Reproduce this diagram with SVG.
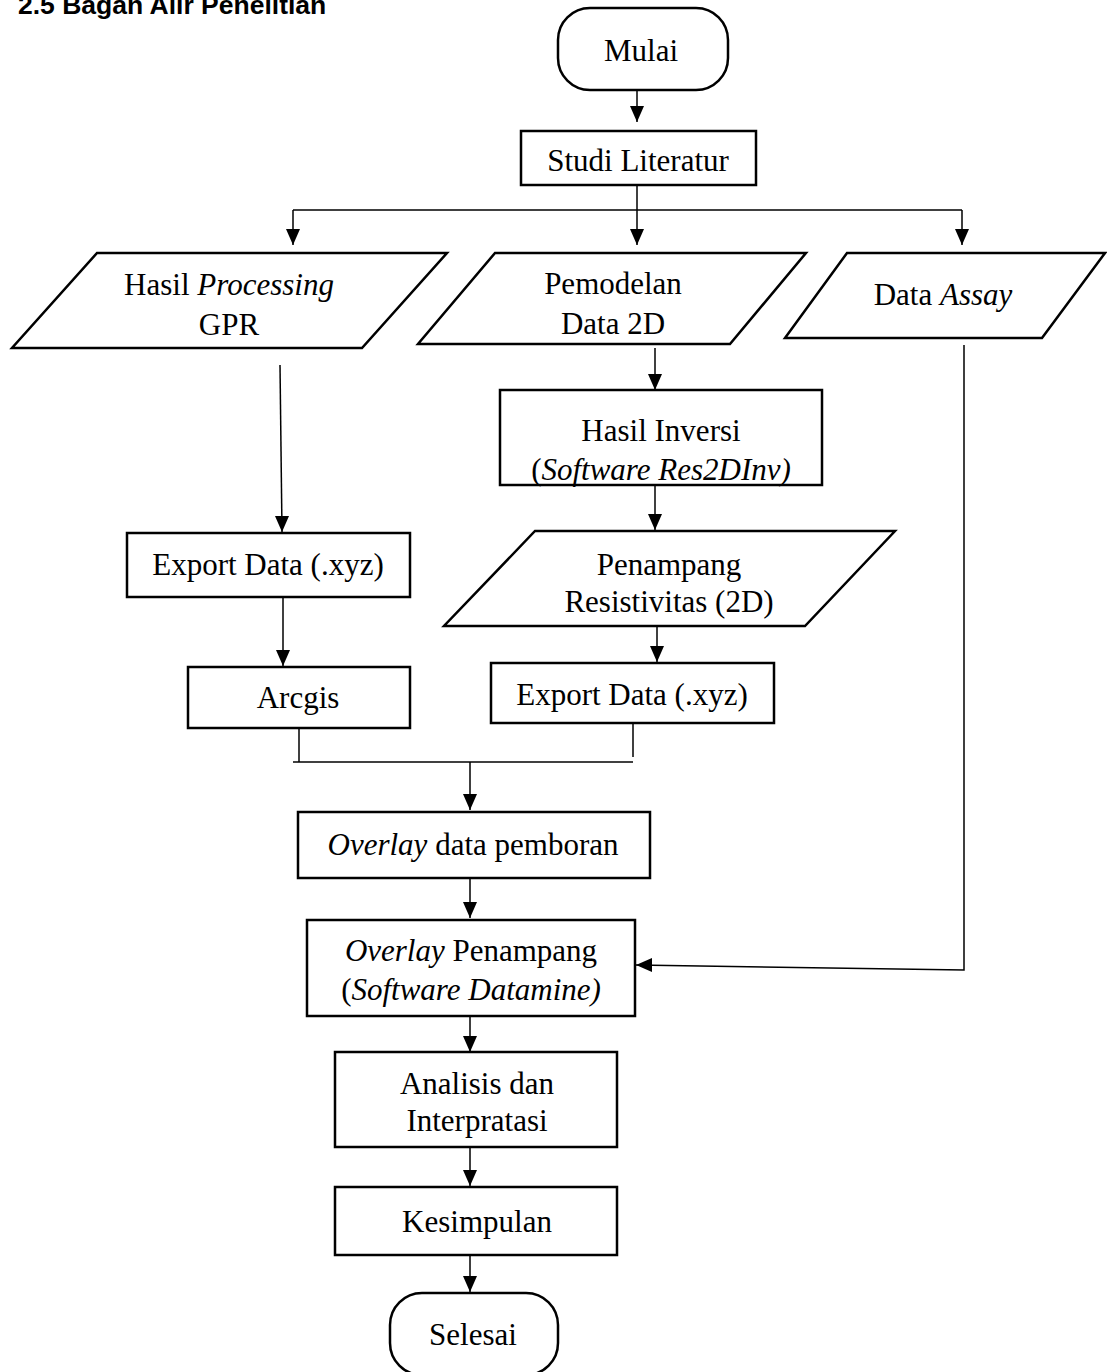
<svg xmlns="http://www.w3.org/2000/svg" width="1107" height="1372" viewBox="0 0 1107 1372">
<style>
.b{fill:#fff;stroke:#000;stroke-width:2.5}
.t{font-family:"Liberation Serif","Times New Roman",serif;font-size:31px;fill:#000;text-anchor:middle}
.i{font-style:italic}
.c{fill:none;stroke:#000;stroke-width:1.5}
.h{font-family:"Liberation Sans",Arial,sans-serif;font-size:26.5px;font-weight:bold;fill:#000}
</style>
<defs>
<marker id="ah" viewBox="0 0 14 16" refX="7" refY="16" markerWidth="14" markerHeight="16" markerUnits="userSpaceOnUse" orient="0">
<path d="M0,0 L14,0 L7,16 Z" fill="#000"/>
</marker>
<marker id="al" viewBox="0 0 16 14" refX="0" refY="7" markerWidth="16" markerHeight="14" markerUnits="userSpaceOnUse" orient="0">
<path d="M16,0 L16,14 L0,7 Z" fill="#000"/>
</marker>
</defs>
<rect width="1107" height="1372" fill="#fff"/>
<text class="h" x="18" y="14">2.5 Bagan Alir Penelitian</text>

<g id="connectors">
<path class="c" d="M637,90 V122" marker-end="url(#ah)"/>
<path class="c" d="M637,185 V245" marker-end="url(#ah)"/>
<path class="c" d="M293,210 H962"/>
<path class="c" d="M293,210 V245" marker-end="url(#ah)"/>
<path class="c" d="M962,210 V245" marker-end="url(#ah)"/>
<path class="c" d="M280,365 L282,532" marker-end="url(#ah)"/>
<path class="c" d="M283,597 V666" marker-end="url(#ah)"/>
<path class="c" d="M299,728 V762"/>
<path class="c" d="M293,762 H633"/>
<path class="c" d="M633,723 V757"/>
<path class="c" d="M470,762 V810" marker-end="url(#ah)"/>
<path class="c" d="M655,348 V390" marker-end="url(#ah)"/>
<path class="c" d="M655,485 V530" marker-end="url(#ah)"/>
<path class="c" d="M657,626 V662" marker-end="url(#ah)"/>
<path class="c" d="M470,878 V918" marker-end="url(#ah)"/>
<path class="c" d="M964,345 V970 L636,965" marker-end="url(#al)"/>
<path class="c" d="M470,1016 V1052" marker-end="url(#ah)"/>
<path class="c" d="M470,1147 V1186" marker-end="url(#ah)"/>
<path class="c" d="M470,1255 V1292" marker-end="url(#ah)"/>
</g>

<g id="mulai">
<rect class="b" x="558" y="8" width="170" height="82" rx="32" ry="32"/>
<text class="t" x="641" y="61">Mulai</text>
</g>
<g id="studi-literatur">
<rect class="b" x="521" y="131" width="235" height="54"/>
<text class="t" x="638" y="171">Studi Literatur</text>
</g>
<g id="hasil-processing-gpr">
<polygon class="b" points="97,253 447,253 362,348 12,348"/>
<text class="t" x="229" y="295">Hasil <tspan class="i">Processing</tspan></text>
<text class="t" x="229" y="335">GPR</text>
</g>
<g id="pemodelan-data-2d">
<polygon class="b" points="495,253 806,253 730,344 418,344"/>
<text class="t" x="613" y="294">Pemodelan</text>
<text class="t" x="613" y="334">Data 2D</text>
</g>
<g id="data-assay">
<polygon class="b" points="847,253 1105,253 1042,338 785,338"/>
<text class="t" x="943" y="305">Data <tspan class="i">Assay</tspan></text>
</g>
<g id="hasil-inversi">
<rect class="b" x="500" y="390" width="322" height="95"/>
<text class="t" x="661" y="441">Hasil Inversi</text>
<text class="t" x="661" y="480">(<tspan class="i">Software Res2DInv)</tspan></text>
</g>
<g id="penampang-resistivitas">
<polygon class="b" points="535,531 895,531 805,626 444,626"/>
<text class="t" x="669" y="575">Penampang</text>
<text class="t" x="669" y="612">Resistivitas (2D)</text>
</g>
<g id="export-data-left">
<rect class="b" x="127" y="533" width="283" height="64"/>
<text class="t" x="268" y="575">Export Data (.xyz)</text>
</g>
<g id="arcgis">
<rect class="b" x="188" y="667" width="222" height="61"/>
<text class="t" x="298" y="708">Arcgis</text>
</g>
<g id="export-data-right">
<rect class="b" x="491" y="663" width="283" height="60"/>
<text class="t" x="632" y="705">Export Data (.xyz)</text>
</g>
<g id="overlay-data-pemboran">
<rect class="b" x="298" y="812" width="352" height="66"/>
<text class="t" x="473" y="855"><tspan class="i">Overlay</tspan> data pemboran</text>
</g>
<g id="overlay-penampang">
<rect class="b" x="307" y="920" width="328" height="96"/>
<text class="t" x="471" y="961"><tspan class="i">Overlay</tspan> Penampang</text>
<text class="t" x="471" y="1000">(<tspan class="i">Software Datamine)</tspan></text>
</g>
<g id="analisis-interpretasi">
<rect class="b" x="335" y="1052" width="282" height="95"/>
<text class="t" x="477" y="1094">Analisis dan</text>
<text class="t" x="477" y="1131">Interpratasi</text>
</g>
<g id="kesimpulan">
<rect class="b" x="335" y="1187" width="282" height="68"/>
<text class="t" x="477" y="1232">Kesimpulan</text>
</g>
<g id="selesai">
<rect class="b" x="390" y="1293" width="168" height="82" rx="32" ry="32"/>
<text class="t" x="473" y="1345">Selesai</text>
</g>
</svg>
